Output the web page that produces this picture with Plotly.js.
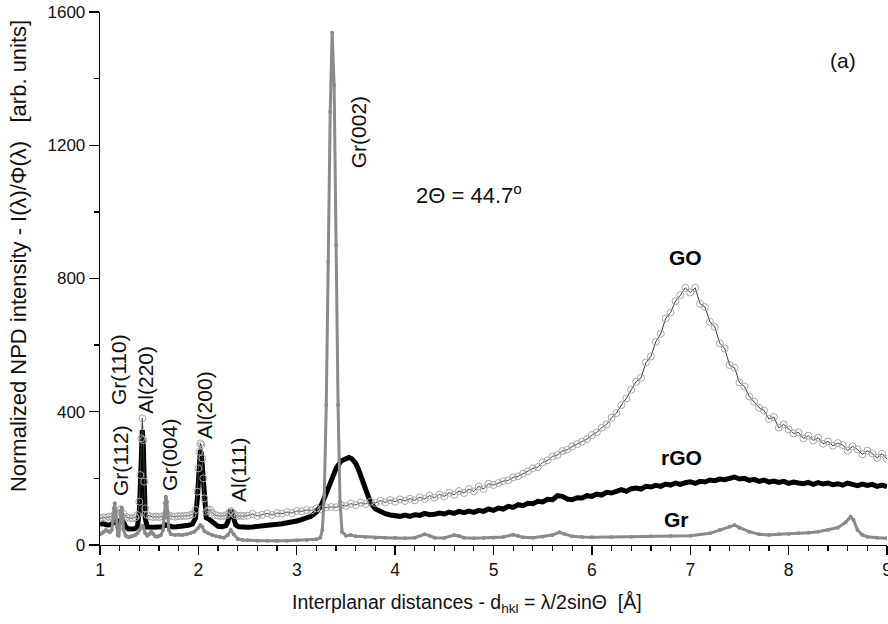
<!DOCTYPE html>
<html><head><meta charset="utf-8">
<script src="https://cdn.plot.ly/plotly-3.0.1.min.js"></script>
<style>html,body{margin:0;padding:0;background:#fff}#chart{width:888px;height:624px}</style>
</head><body><div id="chart"></div>
<script>
// ---- Gr (graphite) ----
const grX = [1.00,1.02,1.04,1.06,1.08,1.10,1.12,1.13,1.14,1.15,1.16,1.17,1.18,1.19,1.20,1.21,1.22,1.23,1.24,1.26,1.28,1.30,1.32,1.34,1.36,1.38,1.40,1.42,1.43,1.44,1.46,1.48,1.50,1.52,1.54,1.56,1.58,1.60,1.62,1.64,1.65,1.66,1.67,1.68,1.69,1.70,1.72,1.76,1.80,1.84,1.88,1.92,1.96,2.00,2.02,2.04,2.06,2.10,2.14,2.18,2.22,2.26,2.30,2.33,2.36,2.40,2.45,2.50,2.60,2.70,2.80,2.90,3.00,3.10,3.20,3.24,3.26,3.28,3.30,3.32,3.34,3.36,3.38,3.40,3.42,3.44,3.46,3.50,3.55,3.60,3.70,3.80,3.90,4.00,4.10,4.20,4.30,4.35,4.40,4.50,4.60,4.65,4.70,4.80,4.90,5.00,5.10,5.20,5.25,5.30,5.40,5.50,5.60,5.67,5.72,5.80,5.90,6.00,6.20,6.40,6.60,6.80,7.00,7.20,7.30,7.40,7.45,7.50,7.60,7.70,7.80,7.90,8.00,8.10,8.20,8.30,8.40,8.50,8.58,8.63,8.66,8.70,8.75,8.80,8.90,9.00];
const grY = [32,35,40,45,42,38,45,70,110,125,100,55,30,28,50,95,112,90,45,28,25,24,26,28,30,35,45,55,58,52,35,28,32,40,33,26,25,27,30,45,80,125,145,130,85,45,32,30,31,30,32,35,40,52,60,55,42,35,30,26,24,22,30,45,32,18,15,14,13,13,12,13,14,15,17,22,45,150,420,850,1300,1538,1380,900,420,130,40,28,30,26,24,22,22,21,20,22,32,28,22,21,30,27,22,20,21,22,24,31,27,23,22,25,30,38,33,26,24,23,24,25,26,27,28,35,45,55,60,52,40,32,30,32,33,35,37,40,45,52,68,85,75,45,30,25,22,20];

// ---- rGO ----
const rgoX = [1.00,1.03,1.06,1.09,1.12,1.15,1.17,1.19,1.22,1.24,1.26,1.29,1.32,1.35,1.38,1.40,1.41,1.42,1.43,1.44,1.45,1.46,1.48,1.51,1.55,1.59,1.63,1.67,1.70,1.74,1.78,1.82,1.86,1.90,1.94,1.97,1.99,2.00,2.01,2.02,2.03,2.04,2.05,2.06,2.08,2.11,2.14,2.17,2.20,2.24,2.28,2.30,2.32,2.33,2.34,2.36,2.38,2.41,2.45,2.50,2.55,2.60,2.65,2.70,2.75,2.80,2.85,2.90,2.95,3.00,3.05,3.10,3.15,3.20,3.25,3.30,3.35,3.40,3.45,3.50,3.53,3.56,3.60,3.63,3.66,3.70,3.75,3.80,3.85,3.90,3.95,4.00,4.05,4.10,4.15,4.20,4.25,4.30,4.35,4.40,4.45,4.50,4.55,4.60,4.65,4.70,4.75,4.80,4.85,4.90,4.95,5.00,5.05,5.10,5.15,5.20,5.25,5.30,5.35,5.40,5.45,5.50,5.55,5.60,5.65,5.70,5.75,5.80,5.85,5.90,5.95,6.00,6.05,6.10,6.15,6.20,6.25,6.30,6.35,6.40,6.45,6.50,6.55,6.60,6.65,6.70,6.75,6.80,6.85,6.90,6.95,7.00,7.05,7.10,7.15,7.20,7.25,7.30,7.35,7.40,7.45,7.50,7.55,7.60,7.65,7.70,7.75,7.80,7.85,7.90,7.95,8.00,8.05,8.10,8.15,8.20,8.25,8.30,8.35,8.40,8.45,8.50,8.55,8.60,8.65,8.70,8.75,8.80,8.85,8.90,8.95,9.00];
const rgoY = [62,64,61,60,63,71,66,68,80,70,55,48,47,49,54,100,180,290,345,300,170,80,54,52,53,54,55,60,56,54,55,56,57,59,63,80,140,190,250,285,275,230,170,115,82,77,71,61,56,55,58,70,95,106,98,72,60,55,53,53,54,55,56,58,60,62,64,66,69,72,76,80,87,99,120,155,195,230,252,261,263,259,245,225,198,160,127,108,99,
  94,90,89,86,90,86,91,89,95,91,
  92,96,93,99,95,101,97,102,98,104,
  101,108,104,111,108,116,113,121,118,125,
  124,131,129,137,136,148,146,138,136,142,
  141,148,146,153,150,158,156,162,166,161,
  169,171,168,176,174,179,176,183,180,186,
  182,187,190,185,191,189,195,193,198,196,
  202,204,198,200,194,197,191,195,189,192,
  188,191,185,189,186,184,188,182,187,183,
  186,181,184,180,186,181,178,183,179,182,
  176,180,175];

// ---- GO ----
const goX = [1.00,1.03,1.06,1.09,1.12,1.15,1.18,1.21,1.24,1.27,1.30,1.33,1.36,1.38,1.40,1.41,1.42,1.43,1.44,1.45,1.46,1.48,1.51,1.54,1.57,1.60,1.63,1.66,1.68,1.70,1.73,1.76,1.79,1.82,1.85,1.88,1.91,1.94,1.97,1.99,2.00,2.01,2.02,2.03,2.04,2.05,2.06,2.08,2.10,2.12,2.14,2.17,2.20,2.23,2.26,2.29,2.31,2.33,2.35,2.37,2.40,2.43,2.46,2.50,2.55,2.60,2.65,2.70,2.75,2.80,2.85,2.90,2.95,3.00,3.05,3.10,3.15,3.20,3.25,3.30,3.35,3.40,3.45,3.50,3.55,3.60,3.65,3.70,3.75,3.80,3.85,3.90,3.95,4.00,4.05,4.10,4.15,4.20,4.25,4.30,4.35,4.40,4.45,4.50,4.55,4.60,4.65,4.70,4.75,4.80,4.85,4.90,4.95,5.00,5.05,5.10,5.15,5.20,5.25,5.30,5.35,5.40,5.45,5.50,5.55,5.60,5.65,5.70,5.75,5.80,5.85,5.90,5.95,6.00,6.05,6.10,6.15,6.20,6.25,6.30,6.35,6.40,6.45,6.50,6.55,6.60,6.65,6.70,6.75,6.80,6.85,6.90,6.95,7.00,7.05,7.10,7.15,7.20,7.25,7.30,7.35,7.40,7.45,7.50,7.55,7.60,7.65,7.70,7.75,7.80,7.85,7.90,7.95,8.00,8.05,8.10,8.15,8.20,8.25,8.30,8.35,8.40,8.45,8.50,8.55,8.60,8.65,8.70,8.75,8.80,8.85,8.90,8.95,9.00];
const goY = [80,83,81,85,84,92,98,107,93,84,81,80,83,90,130,210,320,380,315,190,110,90,86,84,85,84,86,88,93,88,86,85,87,86,88,87,89,92,105,160,230,280,305,300,260,200,140,100,104,106,97,90,88,86,88,90,96,102,97,90,87,88,87,
  88,93,87,91,95,90,96,94,99,96,
  102,101,105,104,110,107,113,114,113,120,
  117,124,120,127,123,130,126,133,128,135,
  130,137,132,139,134,143,138,148,142,152,
  146,157,151,162,156,168,161,176,168,184,
  180,186,192,194,203,206,214,221,230,234,
  248,254,266,270,282,286,296,303,310,318,
  330,338,352,362,382,396,420,440,466,490,
  502,548,566,610,634,680,698,732,750,772,
  758,772,724,714,670,654,606,590,540,532,
  488,476,446,430,412,404,378,384,352,362,
  347,335,338,320,328,314,322,304,311,298,
  306,300,283,296,287,272,283,275,262,274,
  258];

// ---- tick values and texts ----
const xTicks = [1,2,3,4,5,6,7,8,9];
const yTicks = [0,400,800,1200,1600];
const peakLabels = ['Gr(112)','Gr(110)','Al(220)','Gr(004)','Al(200)','Al(111)','Gr(002)'];
const sampleLabels = ['GO','rGO','Gr'];
const angleLabel = '2\u0398 = 44.7<sup>o</sup>';
const panelLabel = '(a)';
const xTitle = 'Interplanar distances - d<sub>hkl</sub> = \u03bb/2sin\u0398 \u00a0[\u00c5]';
const yTitle = 'Normalized NPD intensity - I(\u03bb)/\u03a6(\u03bb) \u00a0\u00a0[arb. units]';

const FONT = 'Liberation Sans, Arial, Helvetica, sans-serif';

const traces = [
  {x: rgoX, y: rgoY, type:'scatter', mode:'lines', name:'rGO',
   line:{color:'#000000', width:5}},
  {x: goX, y: goY, type:'scatter', mode:'lines+markers', name:'GO',
   line:{color:'#3a3a3a', width:1},
   marker:{symbol:'circle-open', size:7, color:'#a8a8a8', line:{width:1}}},
  {x: grX, y: grY, type:'scatter', mode:'lines+markers', name:'Gr',
   line:{color:'#8a8a8a', width:3},
   marker:{size:4, color:'#8a8a8a'}}
];

// label positions (data coordinates)
const peakPos = [[1.203,255],[1.183,525],[1.463,495],[1.70,270],[2.057,420],[2.403,225],[3.623,1239]];
const samplePos = [[6.952,862],[6.911,264],[6.865,78]];

const annotations = [];
peakLabels.forEach((t,i)=>annotations.push({x:peakPos[i][0], y:peakPos[i][1], xref:'x', yref:'y', text:t,
  textangle:-90, showarrow:false, xanchor:'center', yanchor:'middle', font:{family:FONT, size:21, color:'#111'}}));
sampleLabels.forEach((t,i)=>annotations.push({x:samplePos[i][0], y:samplePos[i][1], xref:'x', yref:'y', text:'<b>'+t+'</b>',
  showarrow:false, xanchor:'center', yanchor:'middle', font:{family:FONT, size:21, color:'#000'}}));
annotations.push({x:4.752, y:1053, xref:'x', yref:'y', text:angleLabel, showarrow:false, xanchor:'center', yanchor:'middle',
  font:{family:FONT, size:22, color:'#111'}});
annotations.push({x:8.553, y:1455, xref:'x', yref:'y', text:panelLabel, showarrow:false, xanchor:'center', yanchor:'middle',
  font:{family:FONT, size:21, color:'#111'}});
annotations.push({x:0.466, y:-0.109, xref:'paper', yref:'paper', text:xTitle, showarrow:false, xanchor:'center', yanchor:'middle',
  font:{family:FONT, size:19.5, color:'#111'}});
annotations.push({x:-0.1042, y:0.542, xref:'paper', yref:'paper', text:yTitle, textangle:-90, showarrow:false, xanchor:'center', yanchor:'middle',
  font:{family:FONT, size:22, color:'#111'}});

const axCommon = {showgrid:false, zeroline:false, showline:true, linecolor:'#000', linewidth:1.3,
  tickcolor:'#000', tickwidth:1.3, fixedrange:true};

const layout = {
  width:888, height:624,
  margin:{l:100, r:1, t:12, b:79, pad:0},
  paper_bgcolor:'#fff', plot_bgcolor:'#fff',
  showlegend:false,
  font:{family:FONT, color:'#111'},
  xaxis:Object.assign({}, axCommon, {range:[1,9], tickmode:'array', tickvals:xTicks, ticktext:xTicks.map(String),
    ticks:'outside', ticklen:9, ticklabeloverflow:'allow', tickfont:{family:FONT, size:17.5, color:'#111'},
    minor:{dtick:0.2, tick0:1, ticks:'outside', ticklen:5, tickwidth:1.3, tickcolor:'#000', showgrid:false}}),
  yaxis:Object.assign({}, axCommon, {range:[0,1600], tickmode:'array', tickvals:yTicks, ticktext:yTicks.map(String),
    ticks:'outside', ticklen:10, tickfont:{family:FONT, size:17, color:'#111'},
    minor:{dtick:200, tick0:0, ticks:'outside', ticklen:5, tickwidth:1.3, tickcolor:'#000', showgrid:false}}),
  xaxis2:Object.assign({}, axCommon, {overlaying:'x', anchor:'y', side:'top', range:[1,9], tickmode:'array', tickvals:xTicks,
    ticks:'inside', ticklen:8, showticklabels:false,
    minor:{dtick:0.2, tick0:1, ticks:'inside', ticklen:4, tickwidth:1.3, tickcolor:'#000', showgrid:false}}),
  yaxis2:Object.assign({}, axCommon, {overlaying:'y', anchor:'x', side:'right', range:[0,1600], tickmode:'array', tickvals:yTicks,
    ticks:'inside', ticklen:8, showticklabels:false,
    minor:{dtick:200, tick0:0, ticks:'inside', ticklen:4, tickwidth:1.3, tickcolor:'#000', showgrid:false}}),
  annotations:annotations
};

Plotly.newPlot('chart', traces, layout, {staticPlot:true, displayModeBar:false});
</script>
</body></html>
